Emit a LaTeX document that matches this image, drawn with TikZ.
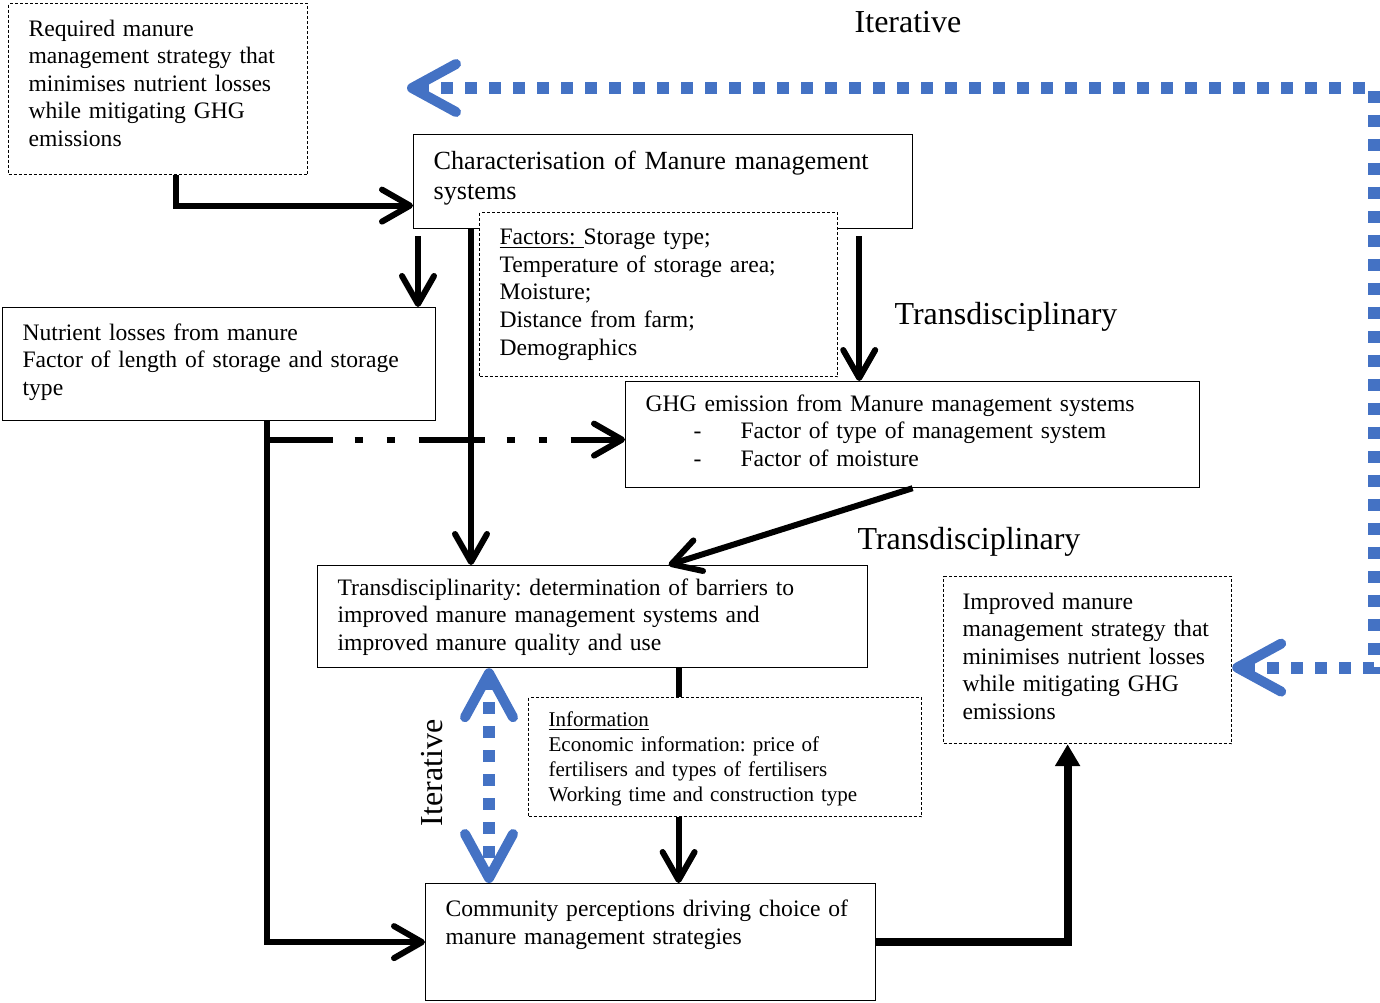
\documentclass[tikz,border=0pt]{standalone}
\usepackage{fontspec}
\setmainfont{Liberation Serif}
\usepackage{tikz}
\usetikzlibrary{arrows.meta}
\definecolor{itblue}{RGB}{68,114,196}
\frenchspacing

\tikzset{
  box/.style={draw, line width=0.6pt, anchor=north west, align=left, inner xsep=10pt, inner ysep=2pt,
    font=\fontsize{11.8}{13.8}\selectfont},
  dbox/.style={box, dash pattern=on 1.5pt off 1pt},
  lab/.style={font=\fontsize{16}{18}\selectfont, inner sep=0pt},
  link/.style={line width=3pt},
  arr/.style={link, -{Straight Barb[length=14pt,width=16pt,round]}},
  dashdotdot/.style={dash pattern=on 33pt off 11pt on 4pt off 12pt on 4pt off 12pt},
  uparr/.style={line width=4pt, -{Triangle[length=11pt,width=12pt]}},
  iter/.style={draw=itblue, line width=6pt, dash pattern=on 6pt off 6pt,
    {Straight Barb[length=22pt,width=24pt,line width=5pt,round]}-{Straight Barb[length=22pt,width=24pt,line width=5pt,round]}}
}

\begin{document}
\begin{tikzpicture}[x=0.5pt, y=-0.5pt]
  \useasboundingbox (0,0) rectangle (1380,1002);

  % boxes
  \node[dbox, minimum width=149.5pt, minimum height=85.5pt, text width=129.5pt, text depth=61.2pt] (req) at (8,3)
    {Required manure\\management strategy that\\minimises nutrient losses\\while mitigating GHG\\emissions};
  \node[box, minimum width=249.5pt, minimum height=47pt, text width=229.5pt, text depth=21pt,
    font=\fontsize{13.1}{15}\selectfont] (char) at (413,134)
    {Characterisation of Manure management\\systems};
  \node[box, minimum width=216.5pt, minimum height=56.5pt, text width=196.5pt, text depth=32.2pt] (nutr) at (2,307)
    {Nutrient losses from manure\\Factor of length of storage and storage\\type};
  \node[box, minimum width=287pt, minimum height=53pt, text width=267pt, text depth=31.6pt] (ghg) at (625,381)
    {GHG emission from Manure management systems\\
     \hspace*{24pt}\makebox[23.5pt][l]{-}Factor of type of management system\\
     \hspace*{24pt}\makebox[23.5pt][l]{-}Factor of moisture};
  \node[box, minimum width=275pt, minimum height=51pt, text width=255pt, text depth=29.6pt] (trans) at (317,565)
    {Transdisciplinarity: determination of barriers to\\improved manure management systems and\\improved manure quality and use};
  \node[dbox, minimum width=196.5pt, minimum height=59.5pt, text width=176.5pt, text depth=38.3pt,
    font=\fontsize{10.5}{12.5}\selectfont] (info) at (528,697)
    {\underline{Information}\\Economic information: price of\\fertilisers and types of fertilisers\\Working time and construction type};
  \node[dbox, minimum width=144pt, minimum height=83.5pt, inner xsep=9.5pt, text width=125pt, text depth=59.2pt] (impr) at (943,576)
    {Improved manure\\management strategy that\\minimises nutrient losses\\while mitigating GHG\\emissions};
  \node[box, minimum width=225pt, minimum height=58.5pt, text width=205pt, text depth=34pt] (comm) at (425,883)
    {Community perceptions driving choice of\\manure management strategies};

  % labels
  \node[lab] (iterTop) at (908,22) {Iterative};
  \node[lab] (transA) at (1006,317) {Transdisciplinary};
  \node[lab] (transB) at (969,542) {Transdisciplinary};
  \node[lab, rotate=90] (iterSide) at (432,773) {Iterative};

  % connectors
  \coordinate (nutrout) at ([xshift=23.75pt]nutr.south);
  \coordinate (ghgin) at ([yshift=-2.5pt]ghg.west);
  \coordinate (mid) at ([xshift=43pt]trans.south);
  \coordinate (loopend) at (407,88);
  \coordinate (loopturn) at ([xshift=71pt,yshift=-3.75pt]impr.east);

  \draw[arr] ([xshift=8.75pt]req.south) |- ([yshift=-12pt]char.west);
  \draw[arr] ([xshift=2.5pt,yshift=-3.5pt]char.south west) -- ([xshift=2.5pt]char.south west |- nutr.north);
  \draw[arr] ([xshift=29pt]char.south west) -- ([xshift=29pt]char.south west |- trans.north);
  \draw[arr] ([xshift=-27pt,yshift=-3.5pt]char.south east) -- ([xshift=-27pt]char.south east |- ghg.north);
  \draw[arr] (nutrout) |- (comm.west);
  \draw[arr, dashdotdot] (nutrout |- ghgin) -- (ghgin);
  \draw[arr] (ghg.south) -- ([xshift=38pt]trans.north);
  \draw[link] (mid) -- (mid |- info.north);
  \draw[arr] (mid |- info.south) -- (mid |- comm.north);
  \draw[uparr] (comm.east) -| ([xshift=-10pt]impr.south);

  % factors box over the box above
  \node[dbox, fill=white, minimum width=179pt, minimum height=82pt, text width=159pt] (fact) at (479,212)
    {\underline{Factors:\ }Storage type;\\Temperature of storage area;\\Moisture;\\Distance from farm;\\Demographics};

  % iterative loops
  \draw[iter] (loopend) -| (loopturn) -- ([yshift=-3.75pt]impr.east);
  \draw[iter] ([xshift=86pt]trans.south west) -- ([xshift=86pt]trans.south west |- comm.north);
\end{tikzpicture}
\end{document}
